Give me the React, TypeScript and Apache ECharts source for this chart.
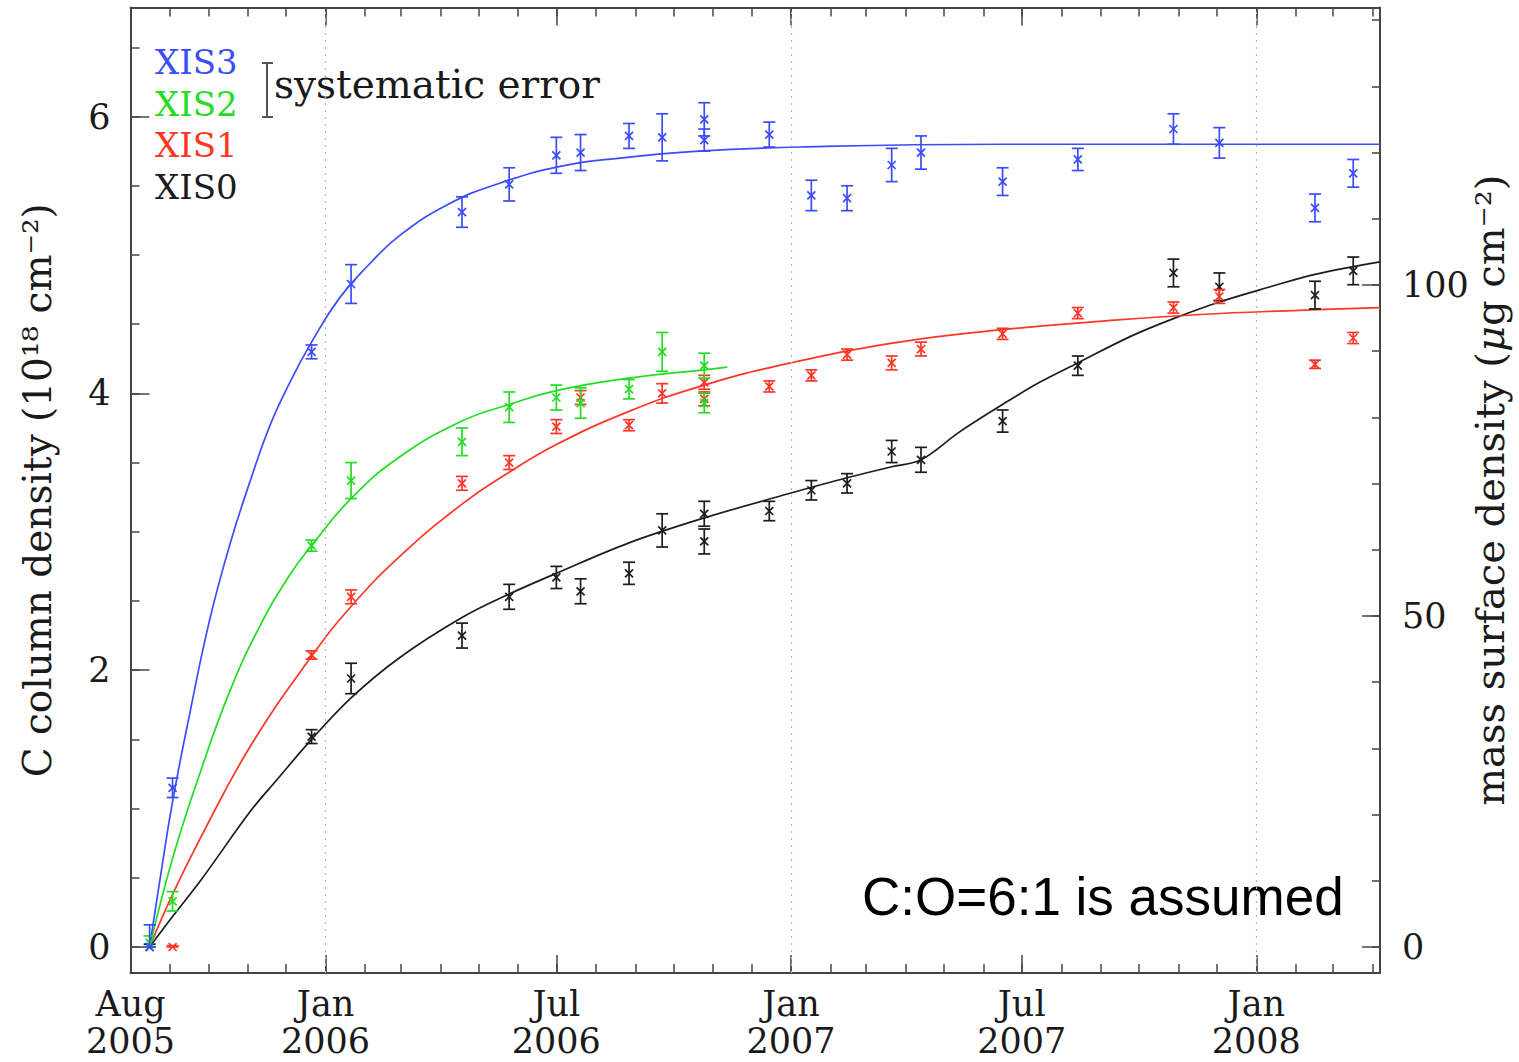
import React, { useEffect, useRef } from 'react';
import * as echarts from 'echarts';

// ---------- axis extents ----------
const X_MIN = '2005-08-01';
const X_MAX = '2008-04-07';
const majorTickDates = ['2006-01-01', '2006-07-01', '2007-01-01', '2007-07-01', '2008-01-01'];
const labelDates = ['2005-08-01', '2006-01-01', '2006-07-01', '2007-01-01', '2007-07-01', '2008-01-01'];
const gridLineDates = ['2006-01-01', '2007-01-01', '2008-01-01'];
const monthNames = ['Jan', 'Feb', 'Mar', 'Apr', 'May', 'Jun', 'Jul', 'Aug', 'Sep', 'Oct', 'Nov', 'Dec'];
const leftMinorTicks = [0, 0.5, 1, 1.5, 2, 2.5, 3, 3.5, 4, 4.5, 5, 5.5, 6, 6.5];
const leftMajorTicks = [0, 2, 4, 6];
const rightMinorTicks = [0, 10, 20, 30, 40, 50, 60, 70, 80, 90, 100, 110, 120, 130, 140];
const rightMajorTicks = [0, 50, 100];

// ---------- XIS3 (blue) ----------
const xis3Dates = ['2005-08-16', '2005-09-03', '2005-12-21', '2006-01-21', '2006-04-18', '2006-05-25', '2006-07-01', '2006-07-20', '2006-08-27', '2006-09-22', '2006-10-25', '2006-10-25', '2006-12-15', '2007-01-17', '2007-02-14', '2007-03-21', '2007-04-13', '2007-06-16', '2007-08-14', '2007-10-28', '2007-12-03', '2008-02-16', '2008-03-17'];
const xis3Values = [0, 1.15, 4.30, 4.79, 5.31, 5.51, 5.72, 5.74, 5.86, 5.85, 5.98, 5.83, 5.87, 5.43, 5.41, 5.65, 5.74, 5.53, 5.69, 5.91, 5.81, 5.34, 5.59];
const xis3Errors = [0.16, 0.07, 0.05, 0.14, 0.11, 0.12, 0.13, 0.13, 0.09, 0.17, 0.12, 0.08, 0.09, 0.11, 0.09, 0.12, 0.12, 0.10, 0.08, 0.11, 0.11, 0.10, 0.10];

// ---------- XIS2 (green) ----------
const xis2Dates = ['2005-08-16', '2005-09-03', '2005-12-21', '2006-01-21', '2006-04-18', '2006-05-25', '2006-07-01', '2006-07-20', '2006-08-27', '2006-09-22', '2006-10-25', '2006-10-25'];
const xis2Values = [0.03, 0.33, 2.90, 3.37, 3.65, 3.90, 3.97, 3.93, 4.03, 4.30, 4.20, 3.93];
const xis2Errors = [0.05, 0.07, 0.04, 0.13, 0.10, 0.11, 0.09, 0.11, 0.07, 0.14, 0.09, 0.07];

// ---------- XIS1 (red) ----------
const xis1Dates = ['2005-09-03', '2005-12-21', '2006-01-21', '2006-04-18', '2006-05-25', '2006-07-01', '2006-07-20', '2006-08-27', '2006-09-22', '2006-10-25', '2006-10-25', '2006-12-15', '2007-01-17', '2007-02-14', '2007-03-21', '2007-04-13', '2007-06-16', '2007-08-14', '2007-10-28', '2007-12-03', '2008-02-16', '2008-03-17'];
const xis1Values = [0, 2.11, 2.53, 3.35, 3.50, 3.76, 3.97, 3.77, 4.00, 4.08, 3.96, 4.05, 4.13, 4.28, 4.22, 4.32, 4.43, 4.58, 4.62, 4.70, 4.21, 4.40];
const xis1Errors = [0.01, 0.03, 0.05, 0.05, 0.05, 0.05, 0.05, 0.04, 0.07, 0.05, 0.05, 0.04, 0.04, 0.04, 0.05, 0.05, 0.04, 0.04, 0.04, 0.05, 0.03, 0.04];

// ---------- XIS0 (black) ----------
const xis0Dates = ['2005-08-16', '2005-12-21', '2006-01-21', '2006-04-18', '2006-05-25', '2006-07-01', '2006-07-20', '2006-08-27', '2006-09-22', '2006-10-25', '2006-10-25', '2006-12-15', '2007-01-17', '2007-02-14', '2007-03-21', '2007-04-13', '2007-06-16', '2007-08-14', '2007-10-28', '2007-12-03', '2008-02-16', '2008-03-17'];
const xis0Values = [0, 1.52, 1.94, 2.25, 2.53, 2.67, 2.57, 2.70, 3.01, 3.13, 2.93, 3.15, 3.30, 3.35, 3.58, 3.52, 3.80, 4.20, 4.87, 4.77, 4.71, 4.885];
const xis0Errors = [0.02, 0.05, 0.11, 0.09, 0.09, 0.08, 0.09, 0.08, 0.12, 0.09, 0.09, 0.07, 0.07, 0.07, 0.08, 0.09, 0.08, 0.07, 0.10, 0.10, 0.10, 0.10];

// ---------- model curves ----------
const fit3Dates = ['2005-08-16', '2005-08-24', '2005-09-03', '2005-09-17', '2005-10-02', '2005-10-18', '2005-11-03', '2005-11-18', '2005-12-04', '2005-12-21', '2006-01-12', '2006-02-05', '2006-02-28', '2006-04-08', '2006-05-18', '2006-07-04', '2006-08-20', '2006-10-21', '2007-01-08', '2007-06-14', '2008-04-07'];
const fit3Values = [0, 0.48, 1.05, 1.71, 2.36, 2.91, 3.37, 3.76, 4.08, 4.37, 4.69, 4.94, 5.14, 5.37, 5.52, 5.64, 5.70, 5.75, 5.78, 5.80, 5.80];

const fit2Dates = ['2005-08-16', '2005-09-03', '2005-09-25', '2005-10-18', '2005-11-10', '2005-12-04', '2005-12-21', '2006-01-21', '2006-02-28', '2006-04-18', '2006-05-25', '2006-07-01', '2006-08-27', '2006-10-25', '2006-11-12'];
const fit2Values = [0, 0.64, 1.27, 1.85, 2.31, 2.69, 2.90, 3.24, 3.54, 3.80, 3.92, 4.02, 4.11, 4.17, 4.19];

const fit1Dates = ['2005-08-16', '2005-09-03', '2005-09-25', '2005-11-03', '2005-12-21', '2006-01-21', '2006-02-28', '2006-04-18', '2006-05-25', '2006-07-01', '2006-08-27', '2006-10-25', '2007-01-01', '2007-03-27', '2007-06-16', '2007-08-31', '2007-11-18', '2008-02-04', '2008-04-07'];
const fit1Values = [0, 0.38, 0.79, 1.45, 2.10, 2.46, 2.82, 3.20, 3.43, 3.63, 3.87, 4.06, 4.22, 4.37, 4.46, 4.52, 4.57, 4.60, 4.62];

const fit0Dates = ['2005-08-16', '2005-09-03', '2005-09-25', '2005-11-03', '2005-11-24', '2005-12-21', '2006-01-21', '2006-02-28', '2006-04-18', '2006-05-25', '2006-07-01', '2006-08-27', '2006-10-25', '2007-01-01', '2007-02-14', '2007-03-21', '2007-04-13', '2007-05-13', '2007-06-16', '2007-07-15', '2007-08-14', '2007-09-24', '2007-10-28', '2007-12-03', '2008-01-12', '2008-02-16', '2008-04-07'];
const fit0Values = [0, 0.22, 0.48, 0.98, 1.21, 1.50, 1.80, 2.09, 2.38, 2.55, 2.70, 2.92, 3.10, 3.28, 3.39, 3.47, 3.52, 3.72, 3.92, 4.08, 4.22, 4.41, 4.54, 4.66, 4.77, 4.86, 4.95];

const legendNames = ['XIS3', 'XIS2', 'XIS1', 'XIS0'];

const BLUE = '#3b4cff';
const GREEN = '#22dd22';
const RED = '#ff3526';
const BLACK = '#1c1c1c';
const AXIS = '#444';
const SERIF = 'DejaVu Serif';

const ts = (s: string) => Date.parse(s + 'T00:00:00Z');

function monthStarts(): number[] {
  const out: number[] = [];
  const start = new Date(ts(X_MIN));
  const end = ts(X_MAX);
  let y = start.getUTCFullYear();
  let m = start.getUTCMonth();
  while (true) {
    const t = Date.UTC(y, m, 1);
    if (t > end) break;
    out.push(t);
    m++;
    if (m > 11) { m = 0; y++; }
  }
  return out;
}

function errorSeries(name: string, color: string, dates: string[], vals: number[], errs: number[], z: number) {
  return {
    type: 'custom',
    name,
    xAxisIndex: 0,
    yAxisIndex: 0,
    z,
    encode: { x: 0, y: 1 },
    data: dates.map((d, i) => [ts(d), vals[i], errs[i]]),
    renderItem: (_params: any, api: any) => {
      const x = api.value(0);
      const y = api.value(1);
      const e = api.value(2);
      const c = api.coord([x, y]);
      const hi = api.coord([x, y + e]);
      const lo = api.coord([x, Math.max(y - e, 0)]);
      const cap = 6;
      const m = 4;
      const st = { stroke: color, lineWidth: 1.7, fill: null };
      return {
        type: 'group',
        children: [
          { type: 'line', shape: { x1: c[0], y1: hi[1], x2: c[0], y2: lo[1] }, style: st },
          { type: 'line', shape: { x1: c[0] - cap, y1: hi[1], x2: c[0] + cap, y2: hi[1] }, style: st },
          { type: 'line', shape: { x1: c[0] - cap, y1: lo[1], x2: c[0] + cap, y2: lo[1] }, style: st },
          { type: 'line', shape: { x1: c[0] - m, y1: c[1] - m, x2: c[0] + m, y2: c[1] + m }, style: st },
          { type: 'line', shape: { x1: c[0] - m, y1: c[1] + m, x2: c[0] + m, y2: c[1] - m }, style: st },
        ],
      };
    },
  };
}

function curveSeries(name: string, color: string, dates: string[], vals: number[], z: number, smooth: any, extra: any = {}) {
  return {
    type: 'line',
    name,
    xAxisIndex: 0,
    yAxisIndex: 0,
    z,
    data: dates.map((d, i) => [ts(d), vals[i]]),
    showSymbol: false,
    symbol: 'none',
    smooth,
    lineStyle: { color, width: 1.7 },
    silent: true,
    ...extra,
  };
}

export default function App() {
  const ref = useRef<HTMLDivElement>(null);

  useEffect(() => {
    if (!ref.current) return;
    const chart = echarts.init(ref.current, undefined, { renderer: 'svg' });
    const months = monthStarts();
    const xMin = ts(X_MIN);
    const xMax = ts(X_MAX);

    const baseX = {
      type: 'value',
      min: xMin,
      max: xMax,
      splitLine: { show: false },
      axisLabel: { show: false },
    };
    const baseYL = {
      type: 'value',
      position: 'left',
      min: -0.188,
      max: 6.788,
      splitLine: { show: false },
    };
    const baseYR = {
      type: 'value',
      position: 'right',
      min: -3.93,
      max: 141.9,
      splitLine: { show: false },
    };
    const tickLabelStyle = { color: '#1a1a1a', fontFamily: SERIF, fontSize: 35 };

    const option: any = {
      animation: false,
      backgroundColor: '#ffffff',
      textStyle: { fontFamily: SERIF },
      grid: { left: 130.5, right: 139, top: 7.5, bottom: 89, containLabel: false },
      xAxis: [
        {
          ...baseX,
          position: 'bottom',
          axisLine: { show: true, onZero: false, lineStyle: { color: AXIS, width: 2 } },
          axisTick: { show: true, inside: true, length: 9, customValues: months, lineStyle: { color: AXIS, width: 1.5 } },
        },
        {
          ...baseX,
          position: 'top',
          axisLine: { show: true, onZero: false, lineStyle: { color: AXIS, width: 2 } },
          axisTick: { show: true, inside: true, length: 9, customValues: months, lineStyle: { color: AXIS, width: 1.5 } },
        },
        {
          ...baseX,
          position: 'bottom',
          axisLine: { show: false, onZero: false },
          axisTick: { show: true, inside: true, length: 18, customValues: majorTickDates.map(ts), lineStyle: { color: AXIS, width: 1.5 } },
          axisLabel: {
            show: true,
            customValues: labelDates.map(ts),
            margin: 12,
            ...tickLabelStyle,
            lineHeight: 37,
            formatter: (v: number) => {
              const d = new Date(v);
              return monthNames[d.getUTCMonth()] + '\n' + d.getUTCFullYear();
            },
          },
        },
        {
          ...baseX,
          position: 'top',
          axisLine: { show: false, onZero: false },
          axisTick: { show: true, inside: true, length: 18, customValues: majorTickDates.map(ts), lineStyle: { color: AXIS, width: 1.5 } },
        },
      ],
      yAxis: [
        {
          ...baseYL,
          axisLine: { show: true, onZero: false, lineStyle: { color: AXIS, width: 2 } },
          axisTick: { show: true, inside: true, length: 9, customValues: leftMinorTicks, lineStyle: { color: AXIS, width: 1.5 } },
          axisLabel: { show: false },
          name: 'C column density (10¹⁸ cm⁻²)',
          nameLocation: 'middle',
          nameRotate: 90,
          nameGap: 74,
          nameTextStyle: { color: '#1a1a1a', fontFamily: SERIF, fontSize: 39 },
        },
        {
          ...baseYL,
          axisLine: { show: false, onZero: false },
          axisTick: { show: true, inside: true, length: 19, customValues: leftMajorTicks, lineStyle: { color: AXIS, width: 1.5 } },
          axisLabel: { show: true, customValues: leftMajorTicks, margin: 20, ...tickLabelStyle },
        },
        {
          ...baseYR,
          axisLine: { show: true, onZero: false, lineStyle: { color: AXIS, width: 2 } },
          axisTick: { show: true, inside: true, length: 8, customValues: rightMinorTicks, lineStyle: { color: AXIS, width: 1.5 } },
          axisLabel: { show: false },
          name: '{n|mass surface density (}{i|μ}{n|g cm⁻²)}',
          nameLocation: 'middle',
          nameRotate: 90,
          nameGap: 90,
          nameTextStyle: {
            color: '#1a1a1a',
            fontFamily: SERIF,
            fontSize: 40,
            rich: {
              n: { color: '#1a1a1a', fontFamily: SERIF, fontSize: 40 },
              i: { color: '#1a1a1a', fontFamily: SERIF, fontSize: 40, fontStyle: 'italic' },
            },
          },
        },
        {
          ...baseYR,
          axisLine: { show: false, onZero: false },
          axisTick: { show: true, inside: true, length: 18, customValues: rightMajorTicks, lineStyle: { color: AXIS, width: 1.5 } },
          axisLabel: { show: true, customValues: rightMajorTicks, margin: 22, ...tickLabelStyle },
        },
      ],
      series: [
        curveSeries('XIS0 fit', BLACK, fit0Dates, fit0Values, 2, 0.35, {
          markLine: {
            silent: true,
            symbol: ['none', 'none'],
            label: { show: false },
            lineStyle: { type: [2, 5], color: '#b5b5b5', width: 1.2 },
            data: gridLineDates.map((d) => ({ xAxis: ts(d) })),
          },
        }),
        curveSeries('XIS1 fit', RED, fit1Dates, fit1Values, 2, 0.45),
        curveSeries('XIS2 fit', GREEN, fit2Dates, fit2Values, 2, 0.45),
        curveSeries('XIS3 fit', BLUE, fit3Dates, fit3Values, 2, 0.45),
        errorSeries('XIS0', BLACK, xis0Dates, xis0Values, xis0Errors, 3),
        errorSeries('XIS1', RED, xis1Dates, xis1Values, xis1Errors, 3),
        errorSeries('XIS2', GREEN, xis2Dates, xis2Values, xis2Errors, 3),
        errorSeries('XIS3', BLUE, xis3Dates, xis3Values, xis3Errors, 4),
      ],
      graphic: [
        ...legendNames.map((n, i) => ({
          type: 'text',
          left: 155,
          top: 45 + i * 41.5,
          style: {
            text: n,
            fill: [BLUE, GREEN, RED, BLACK][i],
            font: `34px "${SERIF}"`,
          },
        })),
        { type: 'line', shape: { x1: 267, y1: 63, x2: 267, y2: 117 }, style: { stroke: '#555', lineWidth: 2 } },
        { type: 'line', shape: { x1: 262, y1: 63, x2: 273, y2: 63 }, style: { stroke: '#555', lineWidth: 2 } },
        { type: 'line', shape: { x1: 262, y1: 117, x2: 273, y2: 117 }, style: { stroke: '#555', lineWidth: 2 } },
        {
          type: 'text',
          left: 274,
          top: 65,
          style: { text: 'systematic error', fill: '#1a1a1a', font: `39px "${SERIF}"` },
        },
        {
          type: 'text',
          left: 862,
          top: 870,
          style: { text: 'C:O=6:1 is assumed', fill: '#000', font: '53px "Liberation Sans"' },
        },
      ],
    };

    chart.setOption(option);
    return () => chart.dispose();
  }, []);

  return (
    <div
      ref={ref}
      style={{ position: 'fixed', left: 0, top: 0, width: 1519, height: 1062, background: '#fff' }}
    />
  );
}
